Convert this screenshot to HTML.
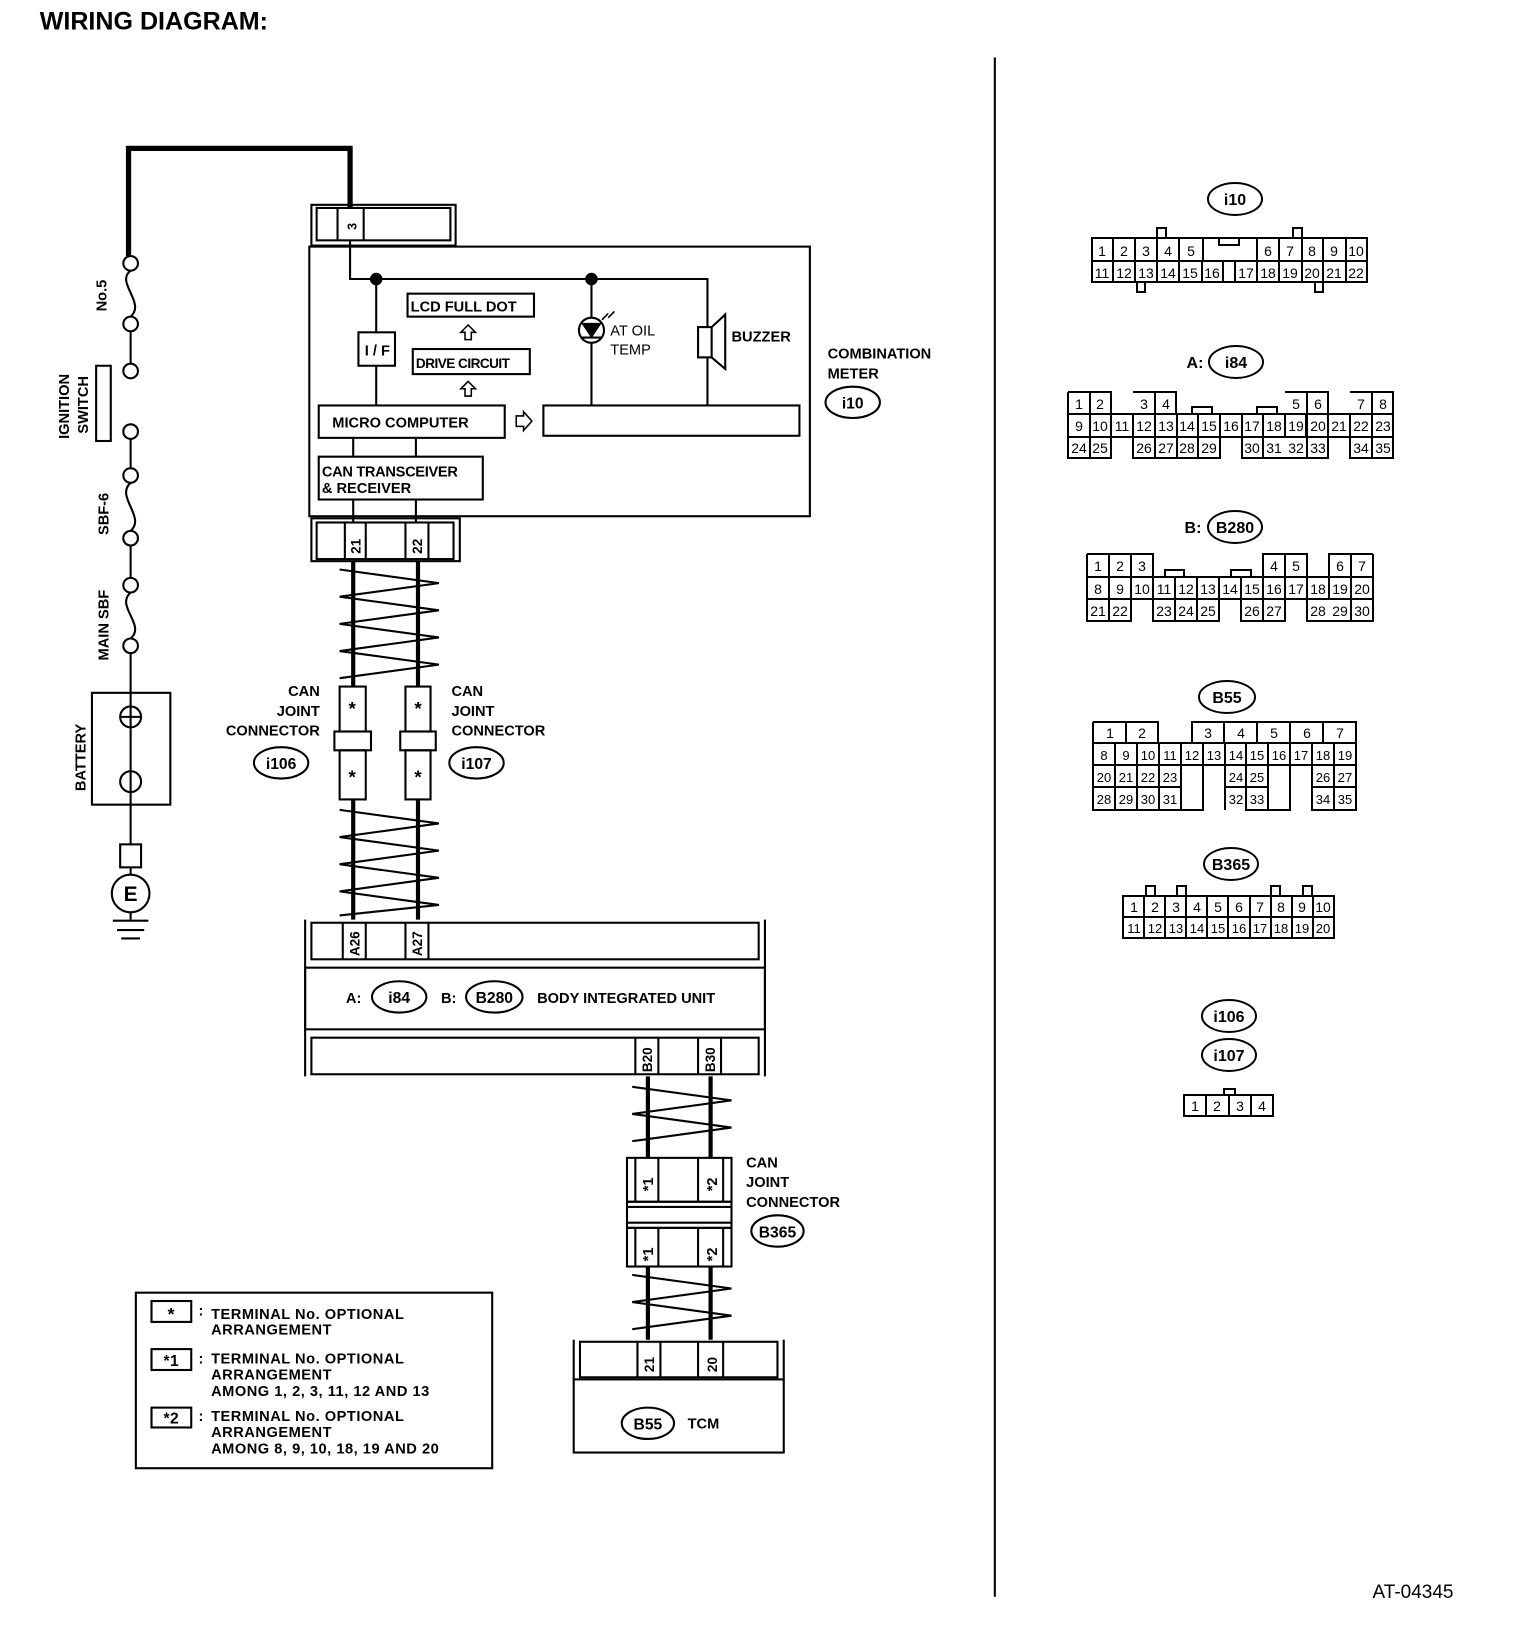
<!DOCTYPE html>
<html><head><meta charset="utf-8"><style>
html,body{margin:0;padding:0;background:#fff}
svg{display:block}
text{font-family:"Liberation Sans",sans-serif;fill:#000}
.b{font-weight:bold}
</style></head><body>
<svg width="1536" height="1630" viewBox="0 0 1536 1630" xmlns="http://www.w3.org/2000/svg">
<g transform="scale(1.045)" stroke="#000" fill="none" stroke-width="2">
<text x="38" y="28" class="b" font-size="24" stroke="none">WIRING DIAGRAM:</text>
<line x1="952" y1="55" x2="952" y2="1528"/>
<polyline points="123,245 123,142 335,142 335,200" stroke-width="5"/>
<circle cx="125" cy="252" r="7" fill="#fff"/><circle cx="125" cy="310" r="7" fill="#fff"/>
<path d="M125,259 C110,270 140,290 125,303"/>
<line x1="125" y1="317" x2="125" y2="348"/>
<circle cx="125" cy="355" r="7" fill="#fff"/><circle cx="125" cy="413" r="7" fill="#fff"/>
<rect x="92" y="350" width="14" height="72"/>
<line x1="125" y1="420" x2="125" y2="448"/>
<circle cx="125" cy="455" r="7" fill="#fff"/><circle cx="125" cy="515" r="7" fill="#fff"/>
<path d="M125,462 C110,475 140,495 125,508"/>
<line x1="125" y1="522" x2="125" y2="553"/>
<circle cx="125" cy="560" r="7" fill="#fff"/><circle cx="125" cy="618" r="7" fill="#fff"/>
<path d="M125,567 C110,580 140,598 125,611"/>
<line x1="125" y1="625" x2="125" y2="675"/>
<rect x="88" y="663" width="75" height="107"/>
<circle cx="125" cy="686" r="10"/><line x1="115" y1="686" x2="135" y2="686"/><line x1="125" y1="676" x2="125" y2="696"/>
<circle cx="125" cy="748" r="10"/>
<line x1="125" y1="696" x2="125" y2="808"/>
<rect x="115" y="808" width="20" height="22"/>
<line x1="125" y1="830" x2="125" y2="837"/>
<circle cx="125" cy="855" r="18"/>
<line x1="125" y1="873" x2="125" y2="880"/>
<line x1="108" y1="881" x2="142" y2="881"/><line x1="112" y1="890" x2="138" y2="890"/><line x1="116" y1="898" x2="134" y2="898"/>
<g stroke="none" class="b" font-size="14">
<text class="b" x="125" y="862" font-size="20" text-anchor="middle">E</text>
<text transform="translate(102,298) rotate(-90)">No.5</text>
<text transform="translate(66,420) rotate(-90)">IGNITION</text>
<text transform="translate(84,415) rotate(-90)">SWITCH</text>
<text transform="translate(104,512) rotate(-90)">SBF-6</text>
<text transform="translate(104,632) rotate(-90)">MAIN  SBF</text>
<text transform="translate(82,757) rotate(-90)">BATTERY</text>
</g>
<rect x="298" y="196" width="138" height="39"/>
<rect x="303" y="199" width="128" height="31"/>
<line x1="323" y1="199" x2="323" y2="230"/><line x1="348" y1="199" x2="348" y2="230"/>
<text transform="translate(341,220) rotate(-90)" font-size="12" class="b" stroke="none">3</text>
<rect x="296" y="236" width="479" height="258"/>
<polyline points="335,230 335,267 677,267 677,388"/>
<circle cx="360" cy="267" r="5" fill="#000"/><circle cx="566" cy="267" r="5" fill="#000"/>
<line x1="360" y1="267" x2="360" y2="388"/>
<rect x="343" y="318" width="35" height="32" fill="#fff"/>
<rect x="390" y="281" width="121" height="22"/>
<rect x="395" y="334" width="112" height="24"/>
<path d="M448,311 l-7,7 h4 v7 h6 v-7 h4 z" stroke-width="1.5"/>
<path d="M448,365 l-7,7 h4 v7 h6 v-7 h4 z" stroke-width="1.5"/>
<rect x="305" y="388" width="178" height="31"/>
<path d="M494,398 h7 v-4 l8,9 l-8,9 v-4 h-7 z" stroke-width="1.5"/>
<rect x="520" y="388" width="245" height="29"/>
<line x1="566" y1="267" x2="566" y2="388"/>
<circle cx="566" cy="316" r="12" fill="#fff"/>
<path d="M558,310 h16 l-8,12 z" fill="#000"/><line x1="556" y1="323" x2="576" y2="323"/>
<path d="M576,306 l6,-6 M582,304 l6,-6" stroke-width="1.5"/>
<rect x="668" y="313" width="13" height="29" fill="#fff"/>
<path d="M681,313 l13,-12 v52 l-13,-11" />
<line x1="338" y1="419" x2="338" y2="437"/><line x1="398" y1="419" x2="398" y2="437"/>
<rect x="305" y="437" width="157" height="41"/>
<line x1="338" y1="478" x2="338" y2="500"/><line x1="398" y1="478" x2="398" y2="500"/>
<rect x="298" y="496" width="142" height="41"/>
<rect x="303" y="500" width="131" height="35"/>
<line x1="330" y1="500" x2="330" y2="535"/><line x1="350" y1="500" x2="350" y2="535"/>
<line x1="388" y1="500" x2="388" y2="535"/><line x1="410" y1="500" x2="410" y2="535"/>
<g stroke="none" class="b" font-size="14">
<text x="349" y="340">I / F</text>
<text x="393" y="298">LCD FULL DOT</text>
<text x="398" y="352" font-size="13" letter-spacing="-0.5">DRIVE CIRCUIT</text>
<text x="318" y="409">MICRO COMPUTER</text>
<text x="308" y="456" letter-spacing="-0.3">CAN TRANSCEIVER</text>
<text x="308" y="472">&amp; RECEIVER</text>
<text x="584" y="321" font-weight="normal">AT OIL</text>
<text x="584" y="339" font-weight="normal">TEMP</text>
<text x="700" y="327">BUZZER</text>
<text x="792" y="343">COMBINATION</text>
<text x="792" y="362">METER</text>
<text transform="translate(345,530) rotate(-90)" font-size="13">21</text>
<text transform="translate(404,530) rotate(-90)" font-size="13">22</text>
</g>
<ellipse cx="816" cy="385" rx="26" ry="15"/>
<text x="816" y="391" text-anchor="middle" class="b" font-size="15" stroke="none">i10</text>
<g stroke-width="4">
<line x1="338" y1="537" x2="338" y2="657"/><line x1="400" y1="537" x2="400" y2="657"/>
<line x1="338" y1="765" x2="338" y2="880"/><line x1="400" y1="765" x2="400" y2="880"/>
<line x1="620" y1="1030" x2="620" y2="1108"/><line x1="680" y1="1030" x2="680" y2="1108"/>
<line x1="620" y1="1212" x2="620" y2="1282"/><line x1="680" y1="1212" x2="680" y2="1282"/>
</g>
<polyline points="325,545 420,558 325,571 420,584 325,597 420,610 325,623 420,636 325,649"/>
<polyline points="325,775 420,788 325,801 420,814 325,827 420,840 325,853 420,866 325,876"/>
<polyline points="605,1040 700,1053 605,1066 700,1079 605,1092"/>
<polyline points="605,1220 700,1233 605,1246 700,1259 605,1272"/>
<rect x="325" y="657" width="25" height="43"/><rect x="325" y="718" width="25" height="47"/>
<rect x="320" y="700" width="35" height="18"/>
<rect x="388" y="657" width="24" height="43"/><rect x="388" y="718" width="24" height="47"/>
<rect x="383" y="700" width="34" height="18"/>
<g stroke="none" class="b" font-size="14">
<text x="337" y="684" text-anchor="middle" font-size="18">*</text>
<text x="337" y="750" text-anchor="middle" font-size="18">*</text>
<text x="400" y="684" text-anchor="middle" font-size="18">*</text>
<text x="400" y="750" text-anchor="middle" font-size="18">*</text>
<text x="306" y="666" text-anchor="end">CAN</text>
<text x="306" y="685" text-anchor="end">JOINT</text>
<text x="306" y="704" text-anchor="end">CONNECTOR</text>
<text x="432" y="666">CAN</text>
<text x="432" y="685">JOINT</text>
<text x="432" y="704">CONNECTOR</text>
<text x="269" y="736" text-anchor="middle" font-size="15">i106</text>
<text x="456" y="736" text-anchor="middle" font-size="15">i107</text>
</g>
<ellipse cx="269" cy="730" rx="26" ry="15"/><ellipse cx="456" cy="730" rx="26" ry="15"/>
<line x1="292" y1="880" x2="292" y2="1030"/><line x1="732" y1="880" x2="732" y2="1030"/>
<rect x="298" y="883" width="428" height="35"/>
<line x1="328" y1="883" x2="328" y2="918"/><line x1="350" y1="883" x2="350" y2="918"/>
<line x1="388" y1="883" x2="388" y2="918"/><line x1="410" y1="883" x2="410" y2="918"/>
<rect x="292" y="926" width="440" height="59"/>
<rect x="298" y="993" width="428" height="35"/>
<line x1="608" y1="993" x2="608" y2="1028"/><line x1="630" y1="993" x2="630" y2="1028"/>
<line x1="668" y1="993" x2="668" y2="1028"/><line x1="690" y1="993" x2="690" y2="1028"/>
<ellipse cx="382" cy="954" rx="26" ry="15"/><ellipse cx="473" cy="954" rx="27" ry="15"/>
<g stroke="none" class="b" font-size="14">
<text transform="translate(344,915) rotate(-90)" font-size="13">A26</text>
<text transform="translate(404,915) rotate(-90)" font-size="13">A27</text>
<text transform="translate(624,1026) rotate(-90)" font-size="13">B20</text>
<text transform="translate(684,1026) rotate(-90)" font-size="13">B30</text>
<text x="331" y="960">A:</text>
<text x="382" y="960" text-anchor="middle" font-size="15">i84</text>
<text x="422" y="960">B:</text>
<text x="473" y="960" text-anchor="middle" font-size="15">B280</text>
<text x="514" y="960">BODY INTEGRATED UNIT</text>
</g>
<rect x="600" y="1108" width="100" height="42"/><rect x="600" y="1175" width="100" height="37"/>
<rect x="600" y="1150" width="100" height="25"/>
<line x1="600" y1="1155" x2="700" y2="1155"/><line x1="600" y1="1170" x2="700" y2="1170"/>
<line x1="608" y1="1108" x2="608" y2="1150"/><line x1="630" y1="1108" x2="630" y2="1150"/>
<line x1="668" y1="1108" x2="668" y2="1150"/><line x1="692" y1="1108" x2="692" y2="1150"/>
<line x1="608" y1="1175" x2="608" y2="1212"/><line x1="630" y1="1175" x2="630" y2="1212"/>
<line x1="668" y1="1175" x2="668" y2="1212"/><line x1="692" y1="1175" x2="692" y2="1212"/>
<ellipse cx="744" cy="1178" rx="25" ry="15"/>
<g stroke="none" class="b" font-size="14">
<text transform="translate(625,1140) rotate(-90)" font-size="14">*1</text>
<text transform="translate(686,1140) rotate(-90)" font-size="14">*2</text>
<text transform="translate(625,1207) rotate(-90)" font-size="14">*1</text>
<text transform="translate(686,1207) rotate(-90)" font-size="14">*2</text>
<text x="714" y="1117">CAN</text>
<text x="714" y="1136">JOINT</text>
<text x="714" y="1155">CONNECTOR</text>
<text x="744" y="1184" text-anchor="middle" font-size="15">B365</text>
</g>
<line x1="549" y1="1282" x2="549" y2="1320"/><line x1="750" y1="1282" x2="750" y2="1320"/>
<rect x="555" y="1284" width="189" height="34"/>
<line x1="610" y1="1284" x2="610" y2="1318"/><line x1="632" y1="1284" x2="632" y2="1318"/>
<line x1="668" y1="1284" x2="668" y2="1318"/><line x1="692" y1="1284" x2="692" y2="1318"/>
<rect x="549" y="1320" width="201" height="70"/>
<ellipse cx="620" cy="1362" rx="25" ry="15"/>
<g stroke="none" class="b" font-size="14">
<text transform="translate(626,1313) rotate(-90)" font-size="13">21</text>
<text transform="translate(686,1313) rotate(-90)" font-size="13">20</text>
<text x="620" y="1368" text-anchor="middle" font-size="15">B55</text>
<text x="658" y="1367">TCM</text>
</g>
<rect x="130" y="1237" width="341" height="168"/>
<rect x="145" y="1245" width="38" height="20"/>
<rect x="145" y="1291" width="38" height="20"/>
<rect x="145" y="1347" width="38" height="19"/>
<g stroke="none" class="b" font-size="14" letter-spacing="0.5">
<text x="164" y="1263" text-anchor="middle" font-size="17">*</text>
<text x="164" y="1307" text-anchor="middle" font-size="15">*1</text>
<text x="164" y="1362" text-anchor="middle" font-size="15">*2</text>
<text x="190" y="1259">:</text><text x="190" y="1305">:</text><text x="190" y="1360">:</text>
<text x="202" y="1262">TERMINAL No. OPTIONAL</text>
<text x="202" y="1277">ARRANGEMENT</text>
<text x="202" y="1305">TERMINAL No. OPTIONAL</text>
<text x="202" y="1320">ARRANGEMENT</text>
<text x="202" y="1336">AMONG 1, 2, 3, 11, 12  AND 13</text>
<text x="202" y="1360">TERMINAL No. OPTIONAL</text>
<text x="202" y="1375">ARRANGEMENT</text>
<text x="202" y="1391">AMONG 8, 9, 10, 18, 19  AND 20</text>
</g>
</g>

<g stroke="#000" fill="none" stroke-width="2">
<ellipse cx="1235" cy="199" rx="27" ry="16"/>
<rect x="1157" y="228" width="9" height="10"/><rect x="1293" y="228" width="9" height="10"/>
<rect x="1137" y="282" width="8" height="10"/><rect x="1315" y="282" width="8" height="10"/>
<rect x="1092" y="238" width="275" height="44"/>
<line x1="1092" y1="261" x2="1367" y2="261"/>
<rect x="1219" y="238" width="20" height="7"/>
<path d="M1113,238V282M1135,238V282M1157,238V282M1179,238V282M1203,238V261M1257,238V282M1279,238V282M1302,238V282M1323,238V282M1346,238V282M1202,261V282M1223,261V282M1235,261V282"/>
<ellipse cx="1236" cy="362" rx="27" ry="16"/>
<path d="M1068,392H1111V414M1133,392H1176V414M1285,392H1328V414M1350,392H1393V414"/>
<path d="M1068,392V458H1111V437M1133,437V458H1220V437M1242,437V458H1328V437M1350,437V458H1393V392"/>
<line x1="1068" y1="414" x2="1393" y2="414"/><line x1="1068" y1="437" x2="1393" y2="437"/>
<path d="M1090,392V458M1155,392V458M1177,414V458M1198,414V458M1263,414V458M1307,392V458M1372,392V458M1306,414V437"/>
<path d="M1111,414V437M1133,414V437M1220,414V437M1242,414V437M1285,414V437M1328,414V437M1350,414V437"/>
<rect x="1192" y="407" width="20" height="7"/><rect x="1257" y="407" width="20" height="7"/>
<ellipse cx="1235" cy="527" rx="27" ry="16"/>
<path d="M1087,554H1153V577M1263,577V554H1307V577M1329,577V554H1373"/>
<path d="M1087,554V621H1131V599M1153,599V621H1219V599M1241,599V621H1285V599M1307,599V621H1373V554"/>
<line x1="1087" y1="577" x2="1373" y2="577"/><line x1="1087" y1="599" x2="1373" y2="599"/>
<path d="M1109,554V621M1131,554V599M1153,577V599M1175,577V621M1197,577V621M1219,577V599M1241,577V599M1263,577V621M1285,554V599M1307,577V599M1329,577V599M1351,554V621"/>
<rect x="1165" y="570" width="19" height="7"/><rect x="1231" y="570" width="20" height="7"/>
<ellipse cx="1227" cy="697" rx="28" ry="16"/>
<path d="M1093,722H1158V743M1192,743V722H1356V810H1312V765M1290,765V810H1246V765M1203,765V810H1093V722"/>
<line x1="1093" y1="743" x2="1356" y2="743"/><line x1="1093" y1="765" x2="1356" y2="765"/>
<line x1="1093" y1="787" x2="1181" y2="787"/><line x1="1225" y1="787" x2="1268" y2="787"/><line x1="1312" y1="787" x2="1356" y2="787"/>
<path d="M1126,722V743M1224,722V743M1257,722V743M1290,722V743M1323,722V743"/>
<path d="M1115,743V810M1137,743V810M1159,743V810M1181,743V810M1203,743V765M1225,743V810M1246,743V765M1268,743V810M1290,743V765M1312,743V765M1334,743V810"/>
<ellipse cx="1231" cy="864" rx="27" ry="16"/>
<rect x="1146" y="886" width="9" height="10"/><rect x="1177" y="886" width="9" height="10"/>
<rect x="1271" y="886" width="9" height="10"/><rect x="1303" y="886" width="9" height="10"/>
<rect x="1123" y="896" width="211" height="42"/>
<line x1="1123" y1="917" x2="1334" y2="917"/>
<path d="M1144,896V938M1165,896V938M1186,896V938M1207,896V938M1228,896V938M1250,896V938M1271,896V938M1292,896V938M1313,896V938"/>
<ellipse cx="1229" cy="1016" rx="27" ry="16"/><ellipse cx="1229" cy="1055" rx="27" ry="16"/>
<rect x="1224" y="1089" width="11" height="6"/>
<rect x="1184" y="1095" width="89" height="21"/>
<path d="M1206,1095V1116M1229,1095V1116M1251,1095V1116"/>
</g>
<g font-size="14" text-anchor="middle">
<text x="1235" y="205" class="b" font-size="16">i10</text>
<text x="1236" y="368" class="b" font-size="16">i84</text>
<text x="1195" y="368" class="b" font-size="16">A:</text>
<text x="1235" y="533" class="b" font-size="16">B280</text>
<text x="1193" y="533" class="b" font-size="16">B:</text>
<text x="1227" y="703" class="b" font-size="16">B55</text>
<text x="1231" y="870" class="b" font-size="16">B365</text>
<text x="1229" y="1022" class="b" font-size="16">i106</text>
<text x="1229" y="1061" class="b" font-size="16">i107</text>
<text x="1102" y="256">1</text><text x="1124" y="256">2</text><text x="1146" y="256">3</text><text x="1168" y="256">4</text><text x="1191" y="256">5</text><text x="1268" y="256">6</text><text x="1290" y="256">7</text><text x="1312" y="256">8</text><text x="1334" y="256">9</text><text x="1356" y="256">10</text>
<text x="1102" y="278">11</text><text x="1124" y="278">12</text><text x="1146" y="278">13</text><text x="1168" y="278">14</text><text x="1190" y="278">15</text><text x="1212" y="278">16</text><text x="1246" y="278">17</text><text x="1268" y="278">18</text><text x="1290" y="278">19</text><text x="1312" y="278">20</text><text x="1334" y="278">21</text><text x="1356" y="278">22</text>
<text x="1079" y="409">1</text><text x="1100" y="409">2</text><text x="1144" y="409">3</text><text x="1166" y="409">4</text><text x="1296" y="409">5</text><text x="1318" y="409">6</text><text x="1361" y="409">7</text><text x="1383" y="409">8</text>
<text x="1079" y="431">9</text><text x="1100" y="431">10</text><text x="1122" y="431">11</text><text x="1144" y="431">12</text><text x="1166" y="431">13</text><text x="1187" y="431">14</text><text x="1209" y="431">15</text><text x="1231" y="431">16</text><text x="1252" y="431">17</text><text x="1274" y="431">18</text><text x="1296" y="431">19</text><text x="1318" y="431">20</text><text x="1339" y="431">21</text><text x="1361" y="431">22</text><text x="1383" y="431">23</text>
<text x="1079" y="453">24</text><text x="1100" y="453">25</text><text x="1144" y="453">26</text><text x="1166" y="453">27</text><text x="1187" y="453">28</text><text x="1209" y="453">29</text><text x="1252" y="453">30</text><text x="1274" y="453">31</text><text x="1296" y="453">32</text><text x="1318" y="453">33</text><text x="1361" y="453">34</text><text x="1383" y="453">35</text>
<text x="1098" y="571">1</text><text x="1120" y="571">2</text><text x="1142" y="571">3</text><text x="1274" y="571">4</text><text x="1296" y="571">5</text><text x="1340" y="571">6</text><text x="1362" y="571">7</text>
<text x="1098" y="594">8</text><text x="1120" y="594">9</text><text x="1142" y="594">10</text><text x="1164" y="594">11</text><text x="1186" y="594">12</text><text x="1208" y="594">13</text><text x="1230" y="594">14</text><text x="1252" y="594">15</text><text x="1274" y="594">16</text><text x="1296" y="594">17</text><text x="1318" y="594">18</text><text x="1340" y="594">19</text><text x="1362" y="594">20</text>
<text x="1098" y="616">21</text><text x="1120" y="616">22</text><text x="1164" y="616">23</text><text x="1186" y="616">24</text><text x="1208" y="616">25</text><text x="1252" y="616">26</text><text x="1274" y="616">27</text><text x="1318" y="616">28</text><text x="1340" y="616">29</text><text x="1362" y="616">30</text>
<text x="1110" y="738">1</text><text x="1142" y="738">2</text><text x="1208" y="738">3</text><text x="1241" y="738">4</text><text x="1274" y="738">5</text><text x="1307" y="738">6</text><text x="1340" y="738">7</text>
<g font-size="13"><text x="1104" y="760">8</text><text x="1126" y="760">9</text><text x="1148" y="760">10</text><text x="1170" y="760">11</text><text x="1192" y="760">12</text><text x="1214" y="760">13</text><text x="1236" y="760">14</text><text x="1257" y="760">15</text><text x="1279" y="760">16</text><text x="1301" y="760">17</text><text x="1323" y="760">18</text><text x="1345" y="760">19</text>
<text x="1104" y="782">20</text><text x="1126" y="782">21</text><text x="1148" y="782">22</text><text x="1170" y="782">23</text><text x="1236" y="782">24</text><text x="1257" y="782">25</text><text x="1323" y="782">26</text><text x="1345" y="782">27</text>
<text x="1104" y="804">28</text><text x="1126" y="804">29</text><text x="1148" y="804">30</text><text x="1170" y="804">31</text><text x="1236" y="804">32</text><text x="1257" y="804">33</text><text x="1323" y="804">34</text><text x="1345" y="804">35</text></g>
<text x="1134" y="912">1</text><text x="1155" y="912">2</text><text x="1176" y="912">3</text><text x="1197" y="912">4</text><text x="1218" y="912">5</text><text x="1239" y="912">6</text><text x="1260" y="912">7</text><text x="1281" y="912">8</text><text x="1302" y="912">9</text><text x="1323" y="912">10</text>
<g font-size="13"><text x="1134" y="933">11</text><text x="1155" y="933">12</text><text x="1176" y="933">13</text><text x="1197" y="933">14</text><text x="1218" y="933">15</text><text x="1239" y="933">16</text><text x="1260" y="933">17</text><text x="1281" y="933">18</text><text x="1302" y="933">19</text><text x="1323" y="933">20</text></g>
<text x="1195" y="1111">1</text><text x="1217" y="1111">2</text><text x="1240" y="1111">3</text><text x="1262" y="1111">4</text>
<text x="1413" y="1598" font-size="19">AT-04345</text>
</g>
</svg>
</body></html>
